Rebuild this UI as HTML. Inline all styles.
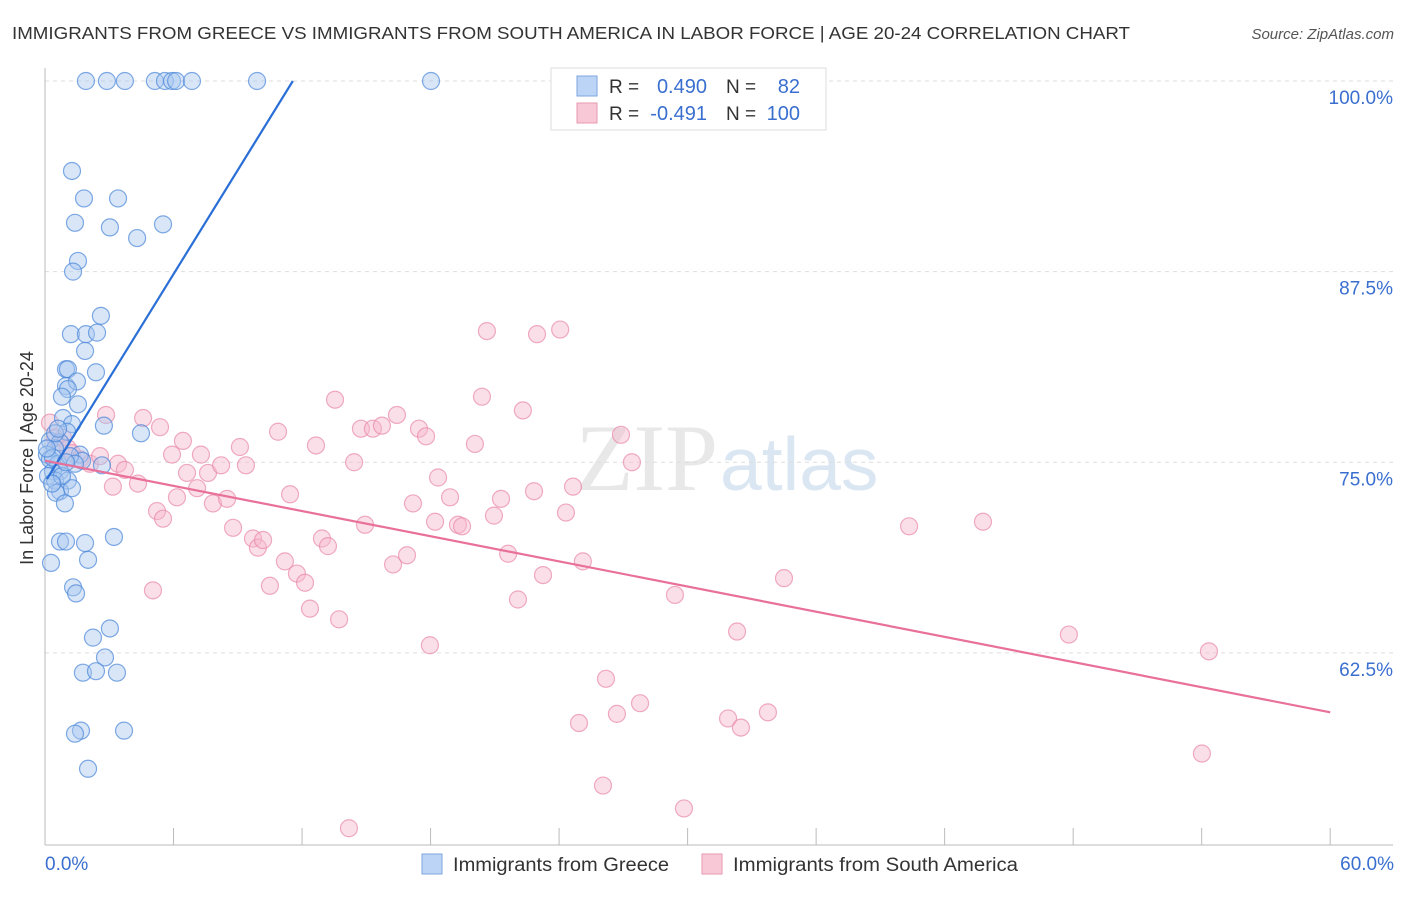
<!DOCTYPE html>
<html><head><meta charset="utf-8"><style>
body{margin:0;background:#fff;font-family:"Liberation Sans",sans-serif}
</style></head><body>
<svg id="c" width="1406" height="892" xmlns="http://www.w3.org/2000/svg">
<text x="12" y="39" font-size="17.5" fill="#333" textLength="1118" lengthAdjust="spacingAndGlyphs">IMMIGRANTS FROM GREECE VS IMMIGRANTS FROM SOUTH AMERICA IN LABOR FORCE | AGE 20-24 CORRELATION CHART</text>
<text x="1394" y="39" font-size="15" fill="#555" font-style="italic" text-anchor="end">Source: ZipAtlas.com</text>
<text x="718" y="490" font-size="95" fill="#e8e8e8" text-anchor="end" font-family="Liberation Serif">ZIP</text>
<text x="720" y="490" font-size="75" fill="#dbe6f3">atlas</text>
<g id="grid"></g><g id="axes"></g><g id="pts"></g><g id="lines"></g>
<text x="33" y="458" font-size="18" fill="#333" transform="rotate(-90 33 458)" text-anchor="middle">In Labor Force | Age 20-24</text>
<text x="45" y="870" font-size="19" fill="#3a6fd0">0.0%</text>
<text x="1394" y="870" font-size="19" fill="#3a6fd0" text-anchor="end">60.0%</text>
<g>
<rect x="422" y="854" width="20" height="20" fill="#bcd4f5" stroke="#7ea6e0"/>
<text x="453" y="871" font-size="19" fill="#333" textLength="216" lengthAdjust="spacingAndGlyphs">Immigrants from Greece</text>
<rect x="702" y="854" width="20" height="20" fill="#f8c8d6" stroke="#e89ab2"/>
<text x="733" y="871" font-size="19" fill="#333" textLength="285" lengthAdjust="spacingAndGlyphs">Immigrants from South America</text>
</g>
<g>
<rect x="551" y="68" width="275" height="62" fill="#fff" stroke="#ddd"/>
<rect x="577" y="76" width="20" height="20" fill="#bcd4f5" stroke="#7ea6e0"/>
<rect x="577" y="103" width="20" height="20" fill="#f8c8d6" stroke="#e89ab2"/>
<text x="609" y="93" font-size="19" fill="#333">R =</text>
<text x="707" y="93" font-size="20" fill="#3a6fd0" text-anchor="end">0.490</text>
<text x="726" y="93" font-size="19" fill="#333">N =</text>
<text x="800" y="93" font-size="20" fill="#3a6fd0" text-anchor="end">82</text>
<text x="609" y="120" font-size="19" fill="#333">R =</text>
<text x="707" y="120" font-size="20" fill="#3a6fd0" text-anchor="end">-0.491</text>
<text x="726" y="120" font-size="19" fill="#333">N =</text>
<text x="800" y="120" font-size="20" fill="#3a6fd0" text-anchor="end">100</text>
</g>
</svg>
<script>
const yTicks=[100,87.5,75,62.5];
const yTickLabels=["100.0%","87.5%","75.0%","62.5%"];
const xTicks=[0,6,12,18,24,30,36,42,48,54,60];
const greeceX=[1.91,2.89,3.73,5.13,5.60,5.93,6.12,6.86,9.90,18.02,1.26,1.82,3.41,1.40,3.03,4.30,5.51,1.54,1.31,2.61,1.21,1.91,2.43,1.87,0.98,1.07,2.38,0.98,1.49,1.07,1.54,0.79,0.84,1.26,1.03,2.75,4.48,0.23,0.70,0.47,0.09,0.23,0.61,1.63,1.73,2.66,0.37,0.70,0.14,0.47,1.07,0.70,1.26,0.51,0.93,0.70,0.98,1.87,3.22,2.01,0.28,1.31,1.45,3.03,2.24,2.80,1.77,2.38,3.36,1.68,1.40,3.69,2.01,0.37,0.47,0.09,1.17,1.40,0.79,0.33,0.98,0.61];
const greeceY=[100,100,100,100,100,100,100,100,100,100,94.1,92.3,92.3,90.7,90.4,89.7,90.6,88.2,87.5,84.6,83.4,83.4,83.5,82.3,81.1,81.1,80.9,80.0,80.3,79.8,78.8,79.3,77.9,77.5,77.0,77.4,76.9,76.4,76.3,75.9,75.5,75.2,74.9,75.5,75.1,74.8,74.4,74.4,74.1,73.8,73.8,73.1,73.3,73.0,72.3,69.8,69.8,69.7,70.1,68.6,68.4,66.8,66.4,64.1,63.5,62.2,61.2,61.3,61.2,57.4,57.2,57.4,54.9,75.3,76.9,75.9,75.4,74.9,74.1,73.6,75.0,77.2];
const saX=[0.23,0.47,0.70,0.84,1.07,1.26,1.63,2.10,2.57,2.85,3.41,3.17,3.73,4.34,4.58,5.04,5.23,5.51,5.37,5.93,6.16,6.44,6.63,7.10,7.28,7.61,7.84,8.22,8.50,8.78,9.10,9.38,9.71,9.94,10.18,10.50,10.88,11.20,11.44,11.76,12.14,12.37,12.65,12.93,13.21,13.73,13.54,14.43,14.94,14.75,15.31,15.73,16.43,16.25,16.90,17.46,17.79,17.18,17.97,18.35,18.21,18.91,19.28,19.47,20.07,20.40,20.63,20.96,21.29,21.62,22.08,22.31,22.83,22.97,23.25,24.05,24.32,24.65,25.11,24.93,26.05,26.19,26.70,26.89,27.40,27.78,29.41,29.83,32.31,31.89,32.49,33.75,34.50,40.34,43.79,47.80,54.34,54.01,14.19];
const saY=[77.6,76.6,76.3,76.6,75.9,75.6,75.2,74.9,75.4,78.1,74.9,73.4,74.5,73.6,77.9,66.6,71.8,71.3,77.3,75.5,72.7,76.4,74.3,73.3,75.5,74.3,72.3,74.8,72.6,70.7,76.0,74.8,70.0,69.4,69.9,66.9,77.0,68.5,72.9,67.7,67.1,65.4,76.1,70.0,69.5,64.7,79.1,75.0,70.9,77.2,77.2,77.4,78.1,68.3,68.9,77.2,76.7,72.3,63.0,74.0,71.1,72.7,70.9,70.8,76.2,79.3,83.6,71.5,72.6,69.0,66.0,78.4,73.1,83.4,67.6,83.7,71.7,73.4,68.5,57.9,53.8,60.8,58.5,76.8,75.0,59.2,66.3,52.3,63.9,58.2,57.6,58.6,67.4,70.8,71.1,63.7,62.6,55.9,51.0];
const blueLine=[[0.09,73.9],[11.57,100]];
const pinkLine=[[0,75.1],[60,58.6]];
const X=v=>45+v*21.42, Y=v=>81+(100-v)*15.25;
const NS='http://www.w3.org/2000/svg';
function mk(t,a,p){const e=document.createElementNS(NS,t);for(const k in a)e.setAttribute(k,a[k]);p.appendChild(e);return e;}
const grid=document.getElementById('grid'),axes=document.getElementById('axes'),pts=document.getElementById('pts'),lines=document.getElementById('lines');
yTicks.forEach((t,i)=>{
 const l=mk('line',{x1:45,x2:1393,y1:Y(t),y2:Y(t),stroke:'#ddd','stroke-dasharray':'4 4'},grid);
 
 
 const tx=mk('text',{x:1393,y:Y(t)+23,'font-size':19,fill:'#3a6fd0','text-anchor':'end'},grid);
 tx.textContent=yTickLabels[i];
 
 
});
const ya=mk('line',{x1:45,x2:45,y1:68,y2:845,stroke:'#bbb'},axes);


const xa=mk('line',{x1:45,x2:1393,y1:845,y2:845,stroke:'#bbb'},axes);


xTicks.forEach(t=>{
 const l=mk('line',{x1:X(t),x2:X(t),y1:828,y2:845,stroke:'#bbb'},axes);
 
 
});
function draw(xs,ys,fill,stroke,name){
 xs.forEach((x,i)=>{
  const c=mk('circle',{cx:X(x),cy:Y(ys[i]),r:8.5,fill:fill,'fill-opacity':0.45,stroke:stroke,'stroke-opacity':0.7,'stroke-width':1.2},pts);
  
  
 });
}
draw(saX,saY,'#f7b8cb','#e889a8','south-america-point');
draw(greeceX,greeceY,'#a8c8f0','#4a86d8','greece-point');
const bl=mk('line',{x1:X(blueLine[0][0]),y1:Y(blueLine[0][1]),x2:X(blueLine[1][0]),y2:Y(blueLine[1][1]),stroke:'#2a6fd6','stroke-width':2.2},lines);


const pl=mk('line',{x1:X(pinkLine[0][0]),y1:Y(pinkLine[0][1]),x2:X(pinkLine[1][0]),y2:Y(pinkLine[1][1]),stroke:'#e8709a','stroke-width':2.2},lines);


</script>
</body></html>
